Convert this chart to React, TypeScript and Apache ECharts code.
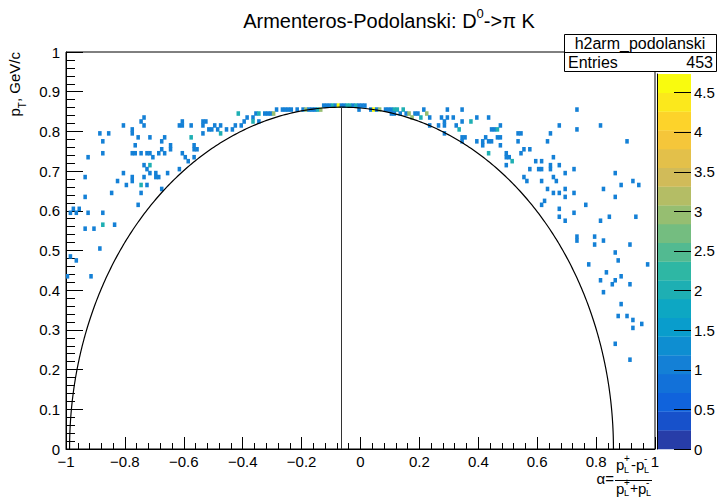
import React, { useEffect, useRef } from "react";
import * as echarts from "echarts";

// ---- histogram contents: [alpha bin centre, pT bin centre, bin content] ----
const leftCells: number[][] = [
  [-0.735, 0.835, 1], [-0.745, 0.825, 1], [-0.735, 0.815, 1], [-0.605, 0.825, 1], [-0.615, 0.815, 1],
  [-0.605, 0.815, 1], [-0.575, 0.815, 1], [-0.535, 0.825, 1], [-0.525, 0.825, 1], [-0.535, 0.815, 1],
  [-0.515, 0.805, 1], [-0.805, 0.815, 1], [-0.775, 0.805, 1], [-0.775, 0.795, 1], [-0.885, 0.795, 1],
  [-0.855, 0.795, 1], [-0.755, 0.785, 1], [-0.715, 0.785, 1], [-0.665, 0.785, 1], [-0.675, 0.775, 1],
  [-0.575, 0.785, 2], [-0.535, 0.795, 1], [-0.875, 0.775, 1], [-0.765, 0.765, 1], [-0.645, 0.765, 1],
  [-0.645, 0.755, 1], [-0.675, 0.755, 1], [-0.565, 0.765, 1], [-0.565, 0.755, 1], [-0.555, 0.755, 1],
  [-0.925, 0.735, 1], [-0.875, 0.745, 1], [-0.775, 0.745, 1], [-0.765, 0.745, 1], [-0.745, 0.745, 1],
  [-0.725, 0.745, 1], [-0.715, 0.745, 1], [-0.705, 0.735, 1], [-0.685, 0.745, 1], [-0.665, 0.745, 1],
  [-0.605, 0.745, 1], [-0.595, 0.735, 1], [-0.585, 0.725, 1], [-0.565, 0.735, 1], [-0.735, 0.715, 1],
  [-0.715, 0.715, 2], [-0.725, 0.705, 1], [-0.715, 0.695, 1], [-0.695, 0.695, 1], [-0.695, 0.685, 1],
  [-0.685, 0.685, 1], [-0.655, 0.695, 1], [-0.615, 0.705, 1], [-0.805, 0.695, 1], [-0.775, 0.685, 1],
  [-0.775, 0.675, 1], [-0.735, 0.685, 1], [-0.935, 0.685, 1], [-0.825, 0.675, 1], [-0.795, 0.665, 1],
  [-0.745, 0.665, 2], [-0.725, 0.665, 1], [-0.675, 0.655, 1], [-0.845, 0.645, 1], [-0.745, 0.645, 1],
  [-0.935, 0.635, 1], [-0.755, 0.615, 1], [-0.975, 0.605, 1], [-0.955, 0.605, 1], [-0.985, 0.595, 1],
  [-0.965, 0.595, 1], [-0.925, 0.595, 1], [-0.875, 0.595, 1], [-0.875, 0.565, 2], [-0.835, 0.565, 1],
  [-0.935, 0.555, 1], [-0.905, 0.555, 1], [-0.885, 0.505, 1], [-0.985, 0.485, 1], [-0.965, 0.475, 1],
  [-0.995, 0.435, 1], [-0.915, 0.435, 1],
];

const topCells: number[][] = [
  // pT 0.865 row
  [-0.125, 0.865, 1], [-0.115, 0.865, 1], [-0.105, 0.865, 1], [-0.095, 0.865, 2], [-0.085, 0.865, 1],
  [-0.075, 0.865, 4.5], [-0.065, 0.865, 1], [-0.055, 0.865, 1], [-0.045, 0.865, 2], [-0.035, 0.865, 2],
  [-0.025, 0.865, 1], [-0.015, 0.865, 2], [-0.005, 0.865, 1], [0.005, 0.865, 1], [0.015, 0.865, 1],
  // pT 0.855 row
  [-0.285, 0.855, 1], [-0.265, 0.855, 1], [-0.255, 0.855, 1], [-0.245, 0.855, 1], [-0.235, 0.855, 1],
  [-0.215, 0.855, 1], [-0.195, 0.855, 1], [-0.185, 0.855, 3], [-0.175, 0.855, 1], [-0.165, 0.855, 1],
  [-0.155, 0.855, 1], [-0.145, 0.855, 2], [-0.135, 0.855, 3], [-0.005, 0.855, 1], [0.035, 0.855, 1],
  [0.045, 0.855, 4.5], [0.055, 0.855, 1], [0.065, 0.855, 3], [0.085, 0.855, 1], [0.095, 0.855, 1],
  [0.105, 0.855, 1], [0.115, 0.855, 2], [0.125, 0.855, 2], [0.145, 0.855, 2], [0.215, 0.855, 1],
  [0.295, 0.855, 1], [0.345, 0.855, 1],
  // pT 0.845 row
  [-0.415, 0.845, 2], [-0.355, 0.845, 1], [-0.345, 0.845, 2], [-0.325, 0.845, 1], [-0.315, 0.845, 1],
  [-0.305, 0.845, 1], [-0.295, 0.845, 3], [0.105, 0.845, 1], [0.115, 0.845, 1], [0.135, 0.845, 1],
  [0.155, 0.845, 1], [0.165, 0.845, 3], [0.185, 0.845, 1], [0.195, 0.845, 1], [0.225, 0.845, 3],
  // pT 0.835 .. 0.745
  [-0.385, 0.835, 1], [-0.365, 0.835, 1], [0.175, 0.835, 3], [0.205, 0.835, 2], [0.235, 0.835, 1],
  [0.275, 0.835, 1], [0.295, 0.835, 1], [0.315, 0.835, 1], [0.395, 0.835, 1], [0.435, 0.835, 1],
  [-0.395, 0.825, 1], [-0.365, 0.825, 2], [-0.345, 0.825, 1], [0.285, 0.825, 1], [0.345, 0.825, 1],
  [0.375, 0.825, 2], [-0.495, 0.815, 1], [-0.475, 0.815, 1], [-0.425, 0.815, 1], [-0.405, 0.815, 1],
  [0.235, 0.815, 1], [0.265, 0.815, 1], [0.285, 0.815, 1], [0.325, 0.815, 1], [-0.505, 0.805, 1],
  [-0.485, 0.805, 1], [-0.455, 0.805, 1], [-0.435, 0.805, 1], [0.335, 0.805, 2], [0.445, 0.805, 1],
  [0.455, 0.805, 1], [0.465, 0.805, 2], [-0.475, 0.795, 2], [0.285, 0.795, 1], [0.345, 0.785, 1],
  [0.355, 0.785, 1], [0.425, 0.785, 1], [0.465, 0.785, 1], [0.345, 0.775, 1], [0.395, 0.775, 1],
  [0.415, 0.775, 1], [0.435, 0.775, 1], [0.445, 0.775, 1], [0.415, 0.765, 1], [0.435, 0.745, 2],
];

const rightCells: number[][] = [
  [0.735, 0.855, 1], [0.675, 0.815, 1], [0.735, 0.805, 1], [0.815, 0.815, 1], [0.905, 0.775, 1],
  [0.475, 0.815, 1], [0.475, 0.785, 1], [0.475, 0.765, 1], [0.535, 0.795, 1], [0.545, 0.795, 1],
  [0.535, 0.775, 1], [0.645, 0.795, 1], [0.635, 0.775, 1], [0.555, 0.755, 1], [0.575, 0.755, 1],
  [0.545, 0.745, 1], [0.495, 0.745, 1], [0.495, 0.735, 1], [0.505, 0.735, 1], [0.515, 0.725, 2],
  [0.495, 0.715, 1], [0.595, 0.725, 1], [0.615, 0.725, 1], [0.655, 0.735, 1], [0.605, 0.705, 1],
  [0.615, 0.705, 1], [0.645, 0.715, 1], [0.645, 0.705, 1], [0.675, 0.715, 1], [0.575, 0.705, 1],
  [0.725, 0.705, 1], [0.695, 0.695, 1], [0.865, 0.695, 1], [0.555, 0.685, 1], [0.565, 0.675, 1],
  [0.615, 0.675, 1], [0.655, 0.685, 1], [0.665, 0.675, 1], [0.635, 0.655, 1], [0.655, 0.645, 1],
  [0.675, 0.645, 1], [0.695, 0.655, 1], [0.695, 0.635, 1], [0.725, 0.645, 1], [0.825, 0.655, 1],
  [0.885, 0.665, 1], [0.925, 0.675, 1], [0.945, 0.665, 1], [0.865, 0.635, 1], [0.625, 0.625, 1],
  [0.615, 0.615, 1], [0.765, 0.615, 1], [0.675, 0.605, 1],
];

const tailCells: number[][] = [
  [0.675, 0.585, 1], [0.695, 0.575, 1], [0.725, 0.595, 1], [0.815, 0.575, 1], [0.845, 0.585, 1],
  [0.935, 0.585, 1], [0.735, 0.535, 1], [0.735, 0.525, 1], [0.795, 0.535, 1], [0.795, 0.515, 1],
  [0.825, 0.525, 1], [0.915, 0.515, 1], [0.865, 0.495, 1], [0.875, 0.475, 1], [0.775, 0.465, 1],
  [0.975, 0.465, 1], [0.835, 0.445, 1], [0.815, 0.425, 1], [0.865, 0.425, 1], [0.885, 0.435, 1],
  [0.855, 0.415, 1], [0.915, 0.415, 1], [0.825, 0.395, 1], [0.885, 0.365, 1], [0.875, 0.335, 1],
  [0.905, 0.335, 1], [0.925, 0.325, 1], [0.925, 0.305, 1], [0.955, 0.315, 1], [0.865, 0.265, 1],
  [0.915, 0.225, 1],
];

const ENTRIES = 453;
const Z_MAX = 4.73;
const N_CONTOURS = 20;
const N_COLORS = 255;
const BIN_X = 0.01;
const BIN_Y = 0.01;
// Armenteros ellipse parameters for D0 -> pi K
const ALPHA0 = -0.0645;
const ELLIPSE_R = 0.9234;
const P_STAR = 0.861;
const zTicks = [0, 0.5, 1, 1.5, 2, 2.5, 3, 3.5, 4, 4.5];

// ROOT kBird palette
const birdStops = [0, 0.125, 0.25, 0.375, 0.5, 0.625, 0.75, 0.875, 1];
const birdRed = [0.2082, 0.0592, 0.078, 0.0232, 0.1802, 0.5301, 0.8186, 0.9956, 0.9764];
const birdGreen = [0.1664, 0.3599, 0.5041, 0.6419, 0.7178, 0.7492, 0.7328, 0.7862, 0.9832];
const birdBlue = [0.5293, 0.8684, 0.8385, 0.7914, 0.6425, 0.4662, 0.3499, 0.1968, 0.0539];

const FONT = "Liberation Sans, Arial, Helvetica, sans-serif";

function birdColor(frac: number): string {
  const f = Math.min(1, Math.max(0, frac));
  let k = 0;
  while (k < birdStops.length - 2 && f > birdStops[k + 1]) k++;
  const t = (f - birdStops[k]) / (birdStops[k + 1] - birdStops[k]);
  const c = (arr: number[]) => Math.round(255 * (arr[k] + t * (arr[k + 1] - arr[k])));
  return `rgb(${c(birdRed)},${c(birdGreen)},${c(birdBlue)})`;
}
function bandColor(band: number): string {
  const idx = Math.floor((band + 0.99) * N_COLORS / N_CONTOURS);
  return birdColor(idx / (N_COLORS - 1));
}
function valueColor(v: number): string {
  let band = Math.floor((v / Z_MAX) * N_CONTOURS);
  band = Math.max(0, Math.min(N_CONTOURS - 1, band));
  return bandColor(band);
}

function pL(x: number, y: number, sign: string, subDy: number): any[] {
  return [
    { type: "text", x, y, style: { text: "p", font: `15px ${FONT}`, fill: "#000", align: "left", verticalAlign: "middle" } },
    { type: "text", x: x + 8, y: y - 6, style: { text: sign, font: `10px ${FONT}`, fill: "#000", align: "left", verticalAlign: "middle" } },
    { type: "text", x: x + 8, y: y + subDy, style: { text: "L", font: `9px ${FONT}`, fill: "#000", align: "left", verticalAlign: "middle" } },
  ];
}

export default function App() {
  const ref = useRef<HTMLDivElement>(null);
  useEffect(() => {
    if (!ref.current) return;
    const chart = echarts.init(ref.current, null, { renderer: "svg" });
    const cells = [...leftCells, ...topCells, ...rightCells, ...tailCells];
    const ellipse: number[][] = [];
    for (let i = 0; i <= 360; i++) {
      const th = (Math.PI * i) / 360;
      ellipse.push([ALPHA0 + ELLIPSE_R * Math.cos(th), P_STAR * Math.sin(th)]);
    }
    const bands = Array.from({ length: N_CONTOURS }, (_, i) => [0.5, i]);
    const fmt = (v: number) => {
      const r = Math.round(v * 10) / 10;
      return r < 0 ? "\u2212" + String(Math.abs(r)) : String(r);
    };
    const zFmt = (v: number) => {
      const r = Math.round(v * 10) / 10;
      return Math.abs(r * 2 - Math.round(r * 2)) < 1e-6 && Math.abs(v - r) < 1e-6 ? String(r) : "";
    };

    const baseGraphic: any[] = [
      {
        type: "text", x: 389, y: 19,
        style: {
          text: "{m|Armenteros-Podolanski: D}{s|0}{m|->\u03c0 K}",
          align: "center", verticalAlign: "middle", fill: "#000",
          rich: {
            m: { fontFamily: FONT, fontSize: 20, fill: "#000", lineHeight: 24, verticalAlign: "bottom" },
            s: { fontFamily: FONT, fontSize: 13, fill: "#000", lineHeight: 24, verticalAlign: "top" },
          },
        },
      },
      {
        type: "text", x: 17, y: 52, rotation: Math.PI / 2,
        style: {
          text: "{m|p}{s|T}{m|, GeV/c}",
          align: "right", verticalAlign: "middle", fill: "#000",
          rich: {
            m: { fontFamily: FONT, fontSize: 15, fill: "#000", lineHeight: 20, verticalAlign: "top" },
            s: { fontFamily: FONT, fontSize: 10, fill: "#000", lineHeight: 20, verticalAlign: "bottom" },
          },
        },
      },
      { type: "rect", shape: { x: 564.5, y: 34.5, width: 152, height: 37 }, style: { fill: "#fff", stroke: "#000", lineWidth: 1 }, z: 10 },
      { type: "line", shape: { x1: 564.5, y1: 52.5, x2: 716.5, y2: 52.5 }, style: { stroke: "#000", lineWidth: 1 }, z: 11 },
      { type: "text", x: 640, y: 43.5, style: { text: "h2arm_podolanski", font: `16px ${FONT}`, fill: "#000", align: "center", verticalAlign: "middle" }, z: 11 },
      { type: "text", x: 568, y: 62.5, style: { text: "Entries", font: `16px ${FONT}`, fill: "#000", align: "left", verticalAlign: "middle" }, z: 11 },
      { type: "text", x: 713, y: 62.5, style: { text: String(ENTRIES), font: `16px ${FONT}`, fill: "#000", align: "right", verticalAlign: "middle" }, z: 11 },
      // x-axis title: alpha = (pL+ - pL-)/(pL+ + pL-)
      { type: "text", x: 614, y: 478, style: { text: "\u03b1=", font: `15px ${FONT}`, fill: "#000", align: "right", verticalAlign: "middle" } },
      { type: "line", shape: { x1: 615, y1: 480.5, x2: 652, y2: 480.5 }, style: { stroke: "#000", lineWidth: 1 } },
      ...pL(616, 464, "+", 6),
      { type: "text", x: 631, y: 464, style: { text: "-", font: `15px ${FONT}`, fill: "#000", align: "left", verticalAlign: "middle" } },
      ...pL(636, 464, "-", 6),
      ...pL(616, 488, "+", 5),
      { type: "text", x: 630, y: 488, style: { text: "+", font: `14px ${FONT}`, fill: "#000", align: "left", verticalAlign: "middle" } },
      ...pL(638, 488, "-", 5),
    ];

    chart.setOption({
      animation: false,
      grid: [
        { left: 66, top: 52, width: 589, height: 397, show: true, borderColor: "#000", borderWidth: 1, containLabel: false },
        { left: 657, top: 74, width: 34, height: 375, show: false, containLabel: false },
      ],
      xAxis: [
        {
          gridIndex: 0, type: "value", min: -1, max: 1, interval: 0.2,
          axisLine: { show: true, onZero: false, lineStyle: { color: "#000", width: 1 } },
          axisTick: { show: true, inside: true, length: 12, lineStyle: { color: "#000" } },
          minorTick: { show: true, splitNumber: 5, length: 6, lineStyle: { color: "#000" } },
          splitLine: { show: false },
          axisLabel: { margin: 5, color: "#000", fontFamily: FONT, fontSize: 15, formatter: fmt },
        },
        { gridIndex: 1, type: "value", min: 0, max: 1, show: false },
      ],
      yAxis: [
        {
          gridIndex: 0, type: "value", min: 0, max: 1, interval: 0.1,
          axisLine: { show: true, onZero: false, lineStyle: { color: "#000", width: 1 } },
          axisTick: { show: true, inside: true, length: 17, lineStyle: { color: "#000" } },
          minorTick: { show: true, splitNumber: 5, length: 9, lineStyle: { color: "#000" } },
          splitLine: { show: false },
          axisLabel: { margin: 6, color: "#000", fontFamily: FONT, fontSize: 15, formatter: fmt },
        },
        {
          gridIndex: 1, type: "value", min: 0, max: Z_MAX, interval: 0.5, position: "right",
          axisLine: { show: true, lineStyle: { color: "#000", width: 1 } },
          axisTick: { show: false },
          splitLine: { show: false },
          axisLabel: { margin: 3, color: "#000", fontFamily: FONT, fontSize: 15, formatter: zFmt },
        },
      ],
      series: [
        {
          type: "custom", xAxisIndex: 0, yAxisIndex: 0, data: cells, encode: { x: 0, y: 1 }, clip: true,
          renderItem: (_p: any, api: any) => {
            const a = api.value(0), p = api.value(1), n = api.value(2);
            const tl = api.coord([a - BIN_X / 2, p + BIN_Y / 2]);
            const br = api.coord([a + BIN_X / 2, p - BIN_Y / 2]);
            return {
              type: "rect",
              shape: { x: tl[0] - 0.3, y: tl[1] - 0.3, width: br[0] - tl[0] + 0.6, height: br[1] - tl[1] + 0.6 },
              style: { fill: valueColor(n) },
            };
          },
          z: 2,
        },
        {
          type: "line", xAxisIndex: 0, yAxisIndex: 0, data: ellipse, showSymbol: false, symbol: "none",
          lineStyle: { color: "#000", width: 1.2 }, z: 3, clip: true,
        },
        {
          type: "line", xAxisIndex: 0, yAxisIndex: 0, data: [[ALPHA0, 0], [ALPHA0, P_STAR]], showSymbol: false, symbol: "none",
          lineStyle: { color: "#333", width: 1 }, z: 3,
        },
        {
          // colour bar: 20 contour bands
          type: "custom", xAxisIndex: 1, yAxisIndex: 1, data: bands, encode: { x: 0, y: 1 },
          renderItem: (_p: any, api: any) => {
            const i = api.value(1);
            const lo = (i * Z_MAX) / N_CONTOURS, hi = ((i + 1) * Z_MAX) / N_CONTOURS;
            const tl = api.coord([0, hi]);
            const br = api.coord([1, lo]);
            return {
              type: "rect",
              shape: { x: tl[0], y: tl[1], width: br[0] - tl[0], height: br[1] - tl[1] + 0.3 },
              style: { fill: bandColor(i) },
            };
          },
          z: 0,
        },
      ],
      graphic: baseGraphic,
    });

    // colour-bar ticks, placed through the colour-bar axis scale
    const xL = chart.convertToPixel({ xAxisIndex: 1 } as any, 0.5) as number;
    const xR = chart.convertToPixel({ xAxisIndex: 1 } as any, 1) as number;
    const tickEls = zTicks.map((v) => {
      const y = Math.round(chart.convertToPixel({ yAxisIndex: 1 } as any, v) as number) + 0.5;
      return { type: "line", shape: { x1: xL, y1: y, x2: xR, y2: y }, style: { stroke: "#000", lineWidth: 1 }, z: 100 };
    });
    chart.setOption({ graphic: [...baseGraphic, ...tickEls] });

    return () => chart.dispose();
  }, []);
  return <div ref={ref} style={{ position: "fixed", left: 0, top: 0, width: 718, height: 500, background: "#fff" }} />;
}
